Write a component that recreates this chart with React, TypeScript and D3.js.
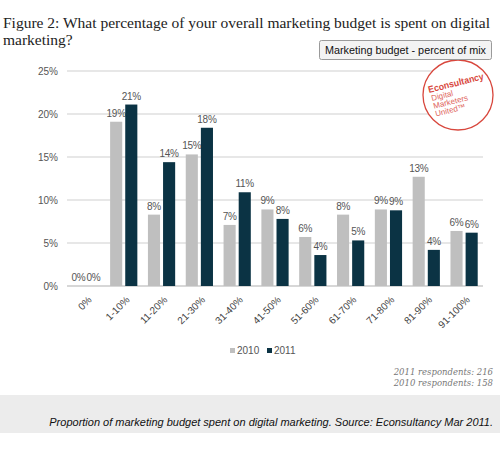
import React from "react";
import * as d3 from "d3";

const categories = ["0%", "1-10%", "11-20%", "21-30%", "31-40%", "41-50%", "51-60%", "61-70%", "71-80%", "81-90%", "91-100%"];
const series = ["2010", "2011"];
const values2010 = [0, 19.1, 8.3, 15.3, 7.1, 8.9, 5.7, 8.3, 8.9, 12.7, 6.4];
const values2011 = [0, 21.1, 14.4, 18.4, 10.9, 7.8, 3.6, 5.3, 8.8, 4.2, 6.2];
const yTicks = [0, 5, 10, 15, 20, 25];
const colors = ["#bfbfbf", "#0b3344"];

const W = 500, H = 450;
const left = 67, right = 483, top = 71, bottom = 286;

export default function App() {
  const x0 = d3.scaleBand<string>().domain(categories).range([left, right]).paddingInner(0.28).paddingOuter(0.14);
  const x1 = d3.scaleBand<string>().domain(series).range([0, x0.bandwidth()]).paddingInner(0.2);
  const y = d3.scaleLinear().domain([0, 25]).range([bottom, top]);
  const data = [values2010, values2011];

  return (
    <svg width={W} height={H} style={{ position: "absolute", left: 0, top: 0, background: "#fff" }}>
      {/* title */}
      <text x={3} y={28} fontFamily="'Liberation Serif', serif" fontSize={15.5} fill="#222">
        Figure 2: What percentage of your overall marketing budget is spent on digital
      </text>
      <text x={3} y={45} fontFamily="'Liberation Serif', serif" fontSize={15.5} fill="#222">marketing?</text>

      {/* gridlines */}
      {yTicks.map((t) => (
        <g key={t}>
          <line x1={left} x2={right} y1={y(t)} y2={y(t)} stroke={t === 0 ? "#b0b0b0" : "#cfcfcf"} strokeWidth={1.2} />
          <text x={58} y={y(t)} dy="0.35em" textAnchor="end" fontFamily="Arial, 'Liberation Sans', sans-serif" fontSize={10} fill="#555">
            {t}%
          </text>
        </g>
      ))}

      {/* bars */}
      {categories.map((c, i) => (
        <g key={c}>
          {series.map((s, j) => {
            const v = data[j][i];
            const bx = (x0(c) as number) + (x1(s) as number);
            const bw = x1.bandwidth();
            return (
              <g key={s}>
                {v > 0 && <rect x={bx} y={y(v)} width={bw} height={y(0) - y(v)} fill={colors[j]} />}
                <text x={bx + bw / 2} y={y(v) - 5} textAnchor="middle" fontFamily="Arial, 'Liberation Sans', sans-serif" fontSize={10} fill="#555" letterSpacing={-0.3}>
                  {Math.round(v)}%
                </text>
              </g>
            );
          })}
          <text
            transform={`translate(${(x0(c) as number) + x0.bandwidth() / 2 + 4},${bottom + 12}) rotate(-45)`}
            textAnchor="end"
            dy="0.35em"
            fontFamily="Arial, 'Liberation Sans', sans-serif"
            fontSize={10}
            fill="#444"
          >
            {c}
          </text>
        </g>
      ))}

      {/* logo */}
      <g>
        <circle cx={458} cy={95} r={35} fill="#fff" stroke="#d8473d" strokeWidth={1.3} />
        <g transform="translate(429,93) rotate(-14)" fontFamily="Arial, 'Liberation Sans', sans-serif" fill="#d8473d">
          <text x={0} y={0} fontSize={9.5} fontWeight="bold" textLength={57} lengthAdjust="spacingAndGlyphs">Econsultancy</text>
          <text x={1} y={8.5} fontSize={8} fill="#e0655c">Digital</text>
          <text x={1} y={16.5} fontSize={8} fill="#e0655c">Marketers</text>
          <text x={1} y={24.5} fontSize={8} fill="#e0655c">United™</text>
        </g>
      </g>

      {/* button */}
      <rect x={319.5} y={40.5} width={172} height={19} rx={2} fill="#f3f3f3" stroke="#9a9a9a" />
      <text x={405.5} y={54} textAnchor="middle" fontFamily="'Liberation Sans', Arial, sans-serif" fontSize={11} fill="#111" textLength={161} lengthAdjust="spacingAndGlyphs">
        Marketing budget - percent of mix
      </text>

      {/* legend */}
      {series.map((s, j) => (
        <g key={s} transform={`translate(${230 + j * 37},0)`}>
          <rect x={0} y={348} width={5} height={5} fill={colors[j]} />
          <text x={7} y={354} fontFamily="Arial, 'Liberation Sans', sans-serif" fontSize={10} fill="#555">{s}</text>
        </g>
      ))}

      {/* respondents */}
      <text x={493} y={375} textAnchor="end" fontFamily="'DejaVu Serif', serif" fontStyle="italic" fontSize={8.5} fill="#777">2011 respondents: 216</text>
      <text x={493} y={386} textAnchor="end" fontFamily="'DejaVu Serif', serif" fontStyle="italic" fontSize={8.5} fill="#777">2010 respondents:  158</text>

      {/* caption */}
      <rect x={0} y={395} width={500} height={38} fill="#ececec" />
      <text x={493} y={426} textAnchor="end" fontFamily="Arial, 'Liberation Sans', sans-serif" fontStyle="italic" fontSize={11} fill="#111">
        Proportion of marketing budget spent on digital marketing. Source: Econsultancy Mar 2011.
      </text>
    </svg>
  );
}
